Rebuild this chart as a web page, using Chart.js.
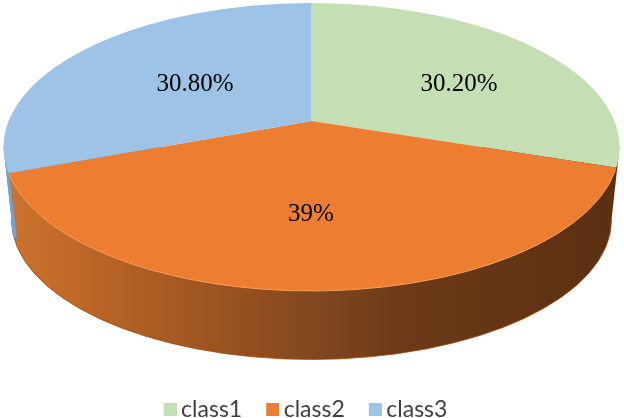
<!DOCTYPE html>
<html>
<head>
<meta charset="utf-8">
<title>class share</title>
<script src="https://cdn.jsdelivr.net/npm/chart.js@4"></script>
<style>
  html, body { margin: 0; padding: 0; background: #fff; }
  #wrap { width: 624px; height: 418px; }
</style>
</head>
<body>
<div id="wrap"><canvas id="pie3d"></canvas></div>
<script>
const categories = ['class1', 'class2', 'class3'];
const shares = [30.2, 39, 30.8];
const shareLabels = ['30.20%', '39%', '30.80%'];
const sliceColors = ['#C5DFB4', '#ED7D31', '#9DC3E6'];

// top face / bottom rim of the disc, in page pixels
const topRim = { x: 311.5, y: 147, rx: 308, ry: 144 };
const lowRim = { x: 311.5, y: 220, rx: 300, ry: 139.5 };
const apex = { x: 311.5, y: 121 };
const tilt = 0.453;
const labelSpots = [[459, 84], [311, 214], [195, 84]];

const sidePath = (ctx) => {
  ctx.beginPath();
  ctx.moveTo(topRim.x - topRim.rx, topRim.y);
  ctx.lineTo(lowRim.x - lowRim.rx, lowRim.y);
  ctx.ellipse(lowRim.x, lowRim.y, lowRim.rx, lowRim.ry, 0, Math.PI, 0, true);
  ctx.lineTo(topRim.x + topRim.rx, topRim.y);
  ctx.closePath();
};

// legend swatch: the square sits in the right part, so it lies closer to the text
const makeSwatch = (color) => {
  const c = document.createElement('canvas');
  c.width = 27;
  c.height = 13;
  const g = c.getContext('2d');
  g.fillStyle = color;
  g.fillRect(14, 0, 13, 13);
  return c;
};

const disc3d = {
  id: 'disc3d',
  beforeDatasetsDraw(chart) {
    const ctx = chart.ctx;
    const arc = chart.getDatasetMeta(0).data[0];

    // side wall
    const grad = ctx.createLinearGradient(0, 0, 624, 0);
    grad.addColorStop(0, '#CC7430');
    grad.addColorStop(0.1, '#C26A28');
    grad.addColorStop(0.385, '#965020');
    grad.addColorStop(0.5, '#82481F');
    grad.addColorStop(0.65, '#6C3A18');
    grad.addColorStop(1, '#5A2F12');
    ctx.save();
    sidePath(ctx);
    ctx.fillStyle = grad;
    ctx.fill();

    // dark line along the bottom edge
    ctx.strokeStyle = 'rgba(170, 75, 10, 0.8)';
    ctx.lineWidth = 1;
    ctx.beginPath();
    ctx.ellipse(lowRim.x, lowRim.y, lowRim.rx, lowRim.ry, 0, 0, Math.PI);
    ctx.stroke();

    // thin slivers of the blue and green walls at the far ends
    sidePath(ctx);
    ctx.clip();
    ctx.fillStyle = '#6FA3D6';
    ctx.beginPath();
    ctx.moveTo(0, 140);
    ctx.lineTo(9, 173);
    ctx.lineTo(17, 238);
    ctx.lineTo(0, 238);
    ctx.closePath();
    ctx.fill();
    ctx.fillStyle = '#7C8A70';
    ctx.beginPath();
    ctx.moveTo(624, 130);
    ctx.lineTo(617, 168);
    ctx.lineTo(624, 168);
    ctx.closePath();
    ctx.fill();
    ctx.restore();

    // top face: the library's slices, squashed and cut by the rim
    ctx.save();
    ctx.beginPath();
    ctx.ellipse(topRim.x, topRim.y, topRim.rx, topRim.ry, 0, 0, Math.PI * 2);
    ctx.clip();
    ctx.translate(apex.x, apex.y);
    ctx.scale(1, tilt);
    ctx.translate(-arc.x, -arc.y);
  },
  afterDatasetsDraw(chart) {
    const ctx = chart.ctx;
    ctx.restore();

    // bright edge on the front of the orange slice
    ctx.save();
    ctx.strokeStyle = '#F6A05A';
    ctx.lineWidth = 1;
    ctx.beginPath();
    ctx.ellipse(topRim.x, topRim.y, topRim.rx, topRim.ry, 0, 0.16, Math.PI - 0.19);
    ctx.stroke();

    ctx.fillStyle = '#000';
    ctx.font = '25px "Liberation Serif"';
    ctx.textAlign = 'center';
    ctx.textBaseline = 'middle';
    shareLabels.forEach((text, i) => {
      ctx.fillText(text, labelSpots[i][0], labelSpots[i][1]);
    });
    ctx.restore();
  }
};

new Chart(document.getElementById('pie3d'), {
  type: 'pie',
  data: {
    labels: categories,
    datasets: [{
      data: shares,
      backgroundColor: sliceColors,
      borderWidth: 0,
      clip: false
    }]
  },
  options: {
    responsive: true,
    maintainAspectRatio: false,
    animation: false,
    radius: 420,
    layout: { padding: { bottom: -13, right: 20 } },
    plugins: {
      tooltip: { enabled: false },
      legend: {
        position: 'bottom',
        labels: {
          usePointStyle: true,
          boxWidth: 13,
          boxHeight: 13,
          padding: 17,
          color: '#404040',
          font: { family: 'Lato', size: 23 },
          generateLabels: (chart) =>
            Chart.overrides.pie.plugins.legend.labels.generateLabels(chart).map((item, i) => ({
              ...item,
              pointStyle: makeSwatch(sliceColors[i])
            }))
        }
      }
    }
  },
  plugins: [disc3d]
});
</script>
</body>
</html>
